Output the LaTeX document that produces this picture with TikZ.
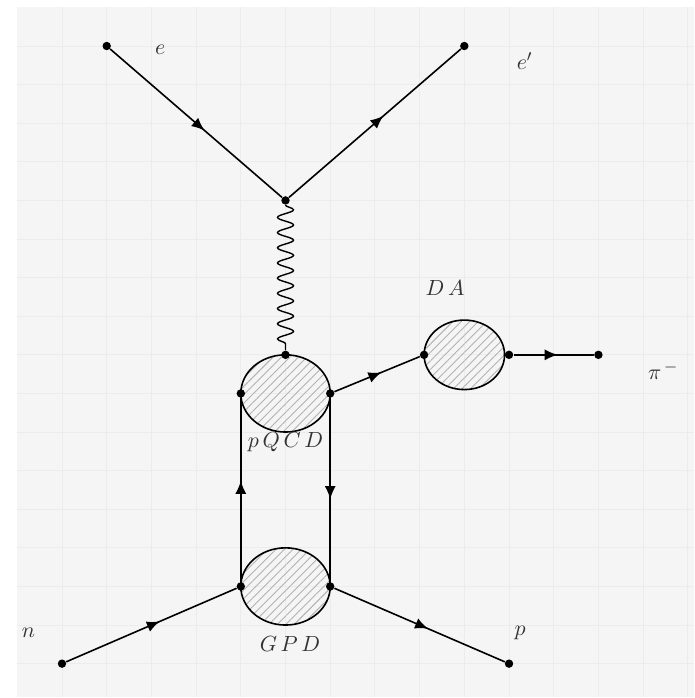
\documentclass[tikz,border=0pt]{standalone}
\usetikzlibrary{arrows.meta,decorations.markings,decorations.pathmorphing,patterns.meta}

\tikzset{
  dot/.style={circle,fill=black,inner sep=0pt,minimum size=4.2pt},
  fermion/.style={line width=0.8pt,postaction={decorate},
    decoration={markings,mark=at position 0.55 with {\arrow{Latex[length=6.5pt,width=5.5pt]}}}},
  photon/.style={line width=0.7pt,decorate,
    decoration={snake,amplitude=4pt,segment length=7.6pt}},
  blob/.style={line width=0.8pt,
    pattern={Lines[angle=45,distance=3pt,line width=0.45pt]},pattern color=gray!60},
  lbl/.style={text=black!80,inner sep=0pt,font=\fontsize{11}{13}\selectfont},
  gridline/.style={draw=gray!15,line width=0.5pt},
}

\begin{document}
\begin{tikzpicture}[x=22.35pt,y=19.3pt]
        % Canvas with grid
        \useasboundingbox (-0.387,0.192) rectangle (15.14,-17.89);
        \fill[gray!8] (0,0) rectangle (15.14,-17.865);
        \foreach \i in {1,...,15}
            \draw[gridline] (\i,0) -- (\i,-17.865);
        \foreach \j in {1,...,17}
            \draw[gridline] (0,-\j) -- (15.14,-\j);

        % Blobs
        \draw[blob] (6,-10) circle (1);
        \draw[blob] (6,-15) circle (1);
        \draw[blob] (10,-9) circle (0.9);

        % Vertices and end points
        \node[dot] (ein) at (2,-1) {};
        \node[dot] (eout) at (10,-1) {};
        \node[dot] (vtx) at (6,-5) {};
        \node[dot] (qtop) at (6,-9) {};
        \node[dot] (qleft) at (5,-10) {};
        \node[dot] (qright) at (7,-10) {};
        \node[dot] (daleft) at (9.1,-9) {};
        \node[dot] (daright) at (11,-9) {};
        \node[dot] (pion) at (13,-9) {};
        \node[dot] (gleft) at (5,-15) {};
        \node[dot] (gright) at (7,-15) {};
        \node[dot] (nin) at (1,-17) {};
        \node[dot] (pout) at (11,-17) {};

        % Lepton lines and photon
        \draw[fermion] (ein) -- (vtx);
        \draw[fermion] (vtx) -- (eout);
        \draw[photon] (vtx) -- (qtop);

        % Hadron lines
        \draw[fermion] (qright) -- (daleft);
        \draw[fermion] (daright) -- (pion);
        \draw[fermion] (gleft) -- (qleft);
        \draw[fermion] (qright) -- (gright);
        \draw[fermion] (nin) -- (gleft);
        \draw[fermion] (gright) -- (pout);

        % Labels
        \node[lbl] (le) at (3.2,-1.1) {$e$};
        \node[lbl] (leo) at (11.35,-1.4) {$e'$};
        \node[lbl] (lda) at (9.57,-7.27) {$D\,A$};
        \node[lbl] (lpi) at (14.45,-9.4) {$\pi^{\,-}$};
        \node[lbl] (lqcd) at (6,-11.25) {$p\,Q\,C\,D$};
        \node[lbl] (lgpd) at (6.1,-16.5) {$G\,P\,D$};
        \node[lbl] (ln) at (0.25,-16.2) {$n$};
        \node[lbl] (lp) at (11.25,-16.2) {$p$};
\end{tikzpicture}
\end{document}
